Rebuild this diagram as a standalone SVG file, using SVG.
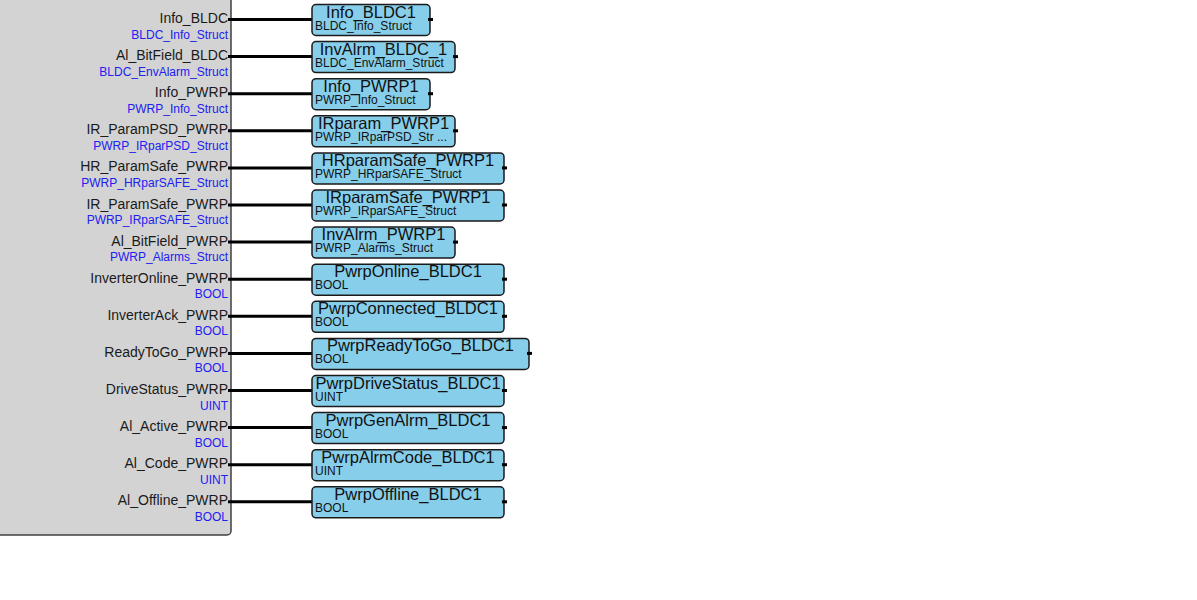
<svg xmlns="http://www.w3.org/2000/svg" width="1197" height="600" viewBox="0 0 1197 600">
<style>
.bg{fill:#ffffff}
.fb{fill:#d3d3d3;stroke:#404040;stroke-width:1.5}
.nm{font-family:"Liberation Sans",Arial,sans-serif;font-size:14px;fill:#1a1a1a;text-anchor:end}
.ty{font-family:"Liberation Sans",Arial,sans-serif;font-size:12px;fill:#2020f0;text-anchor:end}
.vb{fill:#87ceeb;stroke:#1a1a1a;stroke-width:1.5}
.vt{font-family:"Liberation Sans",Arial,sans-serif;font-size:16.5px;fill:#111;text-anchor:middle}
.vs{font-family:"Liberation Sans",Arial,sans-serif;font-size:12px;fill:#111}
.pin{fill:#000}
.wire{stroke:#000;stroke-width:3;fill:none}
</style>
<rect class="bg" x="0" y="0" width="1197" height="600"/>
<g id="fb">
<rect class="fb" x="-10" y="-10" width="241" height="545" rx="4"/>
<text class="nm" x="228" y="23">Info_BLDC</text><text class="ty" x="228" y="38.5">BLDC_Info_Struct</text>
<text class="nm" x="228" y="60.1">Al_BitField_BLDC</text><text class="ty" x="228" y="75.6">BLDC_EnvAlarm_Struct</text>
<text class="nm" x="228" y="97.2">Info_PWRP</text><text class="ty" x="228" y="112.7">PWRP_Info_Struct</text>
<text class="nm" x="228" y="134.3">IR_ParamPSD_PWRP</text><text class="ty" x="228" y="149.8">PWRP_IRparPSD_Struct</text>
<text class="nm" x="228" y="171.4">HR_ParamSafe_PWRP</text><text class="ty" x="228" y="186.9">PWRP_HRparSAFE_Struct</text>
<text class="nm" x="228" y="208.5">IR_ParamSafe_PWRP</text><text class="ty" x="228" y="224">PWRP_IRparSAFE_Struct</text>
<text class="nm" x="228" y="245.6">Al_BitField_PWRP</text><text class="ty" x="228" y="261.1">PWRP_Alarms_Struct</text>
<text class="nm" x="228" y="282.7">InverterOnline_PWRP</text><text class="ty" x="228" y="298.2">BOOL</text>
<text class="nm" x="228" y="319.8">InverterAck_PWRP</text><text class="ty" x="228" y="335.3">BOOL</text>
<text class="nm" x="228" y="356.9">ReadyToGo_PWRP</text><text class="ty" x="228" y="372.4">BOOL</text>
<text class="nm" x="228" y="394">DriveStatus_PWRP</text><text class="ty" x="228" y="409.5">UINT</text>
<text class="nm" x="228" y="431.1">Al_Active_PWRP</text><text class="ty" x="228" y="446.6">BOOL</text>
<text class="nm" x="228" y="468.2">Al_Code_PWRP</text><text class="ty" x="228" y="483.7">UINT</text>
<text class="nm" x="228" y="505.3">Al_Offline_PWRP</text><text class="ty" x="228" y="520.8">BOOL</text>
</g>
<g id="connectors">
<path class="wire" d="M228 19.5H313 M228 56.6H313 M228 93.7H313 M228 130.8H313 M228 167.9H313 M228 205H313 M228 242.1H313 M228 279.2H313 M228 316.3H313 M228 353.4H313 M228 390.5H313 M228 427.6H313 M228 464.7H313 M228 501.8H313"/>
</g>
<g id="v1"><rect class="vb" x="312" y="4.5" width="118" height="31" rx="4"/><rect class="pin" x="428" y="18" width="5" height="3"/><text class="vt" x="371" y="17.5">Info_BLDC1</text><text class="vs" x="315" y="29.5">BLDC_Info_Struct</text></g>
<g id="v2"><rect class="vb" x="312" y="41.6" width="143" height="31" rx="4"/><rect class="pin" x="453" y="55.1" width="5" height="3"/><text class="vt" x="383.5" y="54.6">InvAlrm_BLDC_1</text><text class="vs" x="315" y="66.6">BLDC_EnvAlarm_Struct</text></g>
<g id="v3"><rect class="vb" x="312" y="78.7" width="118" height="31" rx="4"/><rect class="pin" x="428" y="92.2" width="5" height="3"/><text class="vt" x="371" y="91.7">Info_PWRP1</text><text class="vs" x="315" y="103.7">PWRP_Info_Struct</text></g>
<g id="v4"><rect class="vb" x="312" y="115.8" width="143" height="31" rx="4"/><rect class="pin" x="453" y="129.3" width="5" height="3"/><text class="vt" x="383.5" y="128.8">IRparam_PWRP1</text><text class="vs" x="315" y="140.8">PWRP_IRparPSD_Str ...</text></g>
<g id="v5"><rect class="vb" x="312" y="152.9" width="192" height="31" rx="4"/><rect class="pin" x="502" y="166.4" width="5" height="3"/><text class="vt" x="408" y="165.9">HRparamSafe_PWRP1</text><text class="vs" x="315" y="177.9">PWRP_HRparSAFE_Struct</text></g>
<g id="v6"><rect class="vb" x="312" y="190" width="192" height="31" rx="4"/><rect class="pin" x="502" y="203.5" width="5" height="3"/><text class="vt" x="408" y="203">IRparamSafe_PWRP1</text><text class="vs" x="315" y="215">PWRP_IRparSAFE_Struct</text></g>
<g id="v7"><rect class="vb" x="312" y="227.1" width="143" height="31" rx="4"/><rect class="pin" x="453" y="240.6" width="5" height="3"/><text class="vt" x="383.5" y="240.1">InvAlrm_PWRP1</text><text class="vs" x="315" y="252.1">PWRP_Alarms_Struct</text></g>
<g id="v8"><rect class="vb" x="312" y="264.2" width="192" height="31" rx="4"/><rect class="pin" x="502" y="277.7" width="5" height="3"/><text class="vt" x="408" y="277.2">PwrpOnline_BLDC1</text><text class="vs" x="315" y="289.2">BOOL</text></g>
<g id="v9"><rect class="vb" x="312" y="301.3" width="192" height="31" rx="4"/><rect class="pin" x="502" y="314.8" width="5" height="3"/><text class="vt" x="408" y="314.3">PwrpConnected_BLDC1</text><text class="vs" x="315" y="326.3">BOOL</text></g>
<g id="v10"><rect class="vb" x="312" y="338.4" width="217" height="31" rx="4"/><rect class="pin" x="527" y="351.9" width="5" height="3"/><text class="vt" x="420.5" y="351.4">PwrpReadyToGo_BLDC1</text><text class="vs" x="315" y="363.4">BOOL</text></g>
<g id="v11"><rect class="vb" x="312" y="375.5" width="192" height="31" rx="4"/><rect class="pin" x="502" y="389" width="5" height="3"/><text class="vt" x="408" y="388.5">PwrpDriveStatus_BLDC1</text><text class="vs" x="315" y="400.5">UINT</text></g>
<g id="v12"><rect class="vb" x="312" y="412.6" width="192" height="31" rx="4"/><rect class="pin" x="502" y="426.1" width="5" height="3"/><text class="vt" x="408" y="425.6">PwrpGenAlrm_BLDC1</text><text class="vs" x="315" y="437.6">BOOL</text></g>
<g id="v13"><rect class="vb" x="312" y="449.7" width="192" height="31" rx="4"/><rect class="pin" x="502" y="463.2" width="5" height="3"/><text class="vt" x="408" y="462.7">PwrpAlrmCode_BLDC1</text><text class="vs" x="315" y="474.7">UINT</text></g>
<g id="v14"><rect class="vb" x="312" y="486.8" width="192" height="31" rx="4"/><rect class="pin" x="502" y="500.3" width="5" height="3"/><text class="vt" x="408" y="499.8">PwrpOffline_BLDC1</text><text class="vs" x="315" y="511.8">BOOL</text></g>
</svg>
